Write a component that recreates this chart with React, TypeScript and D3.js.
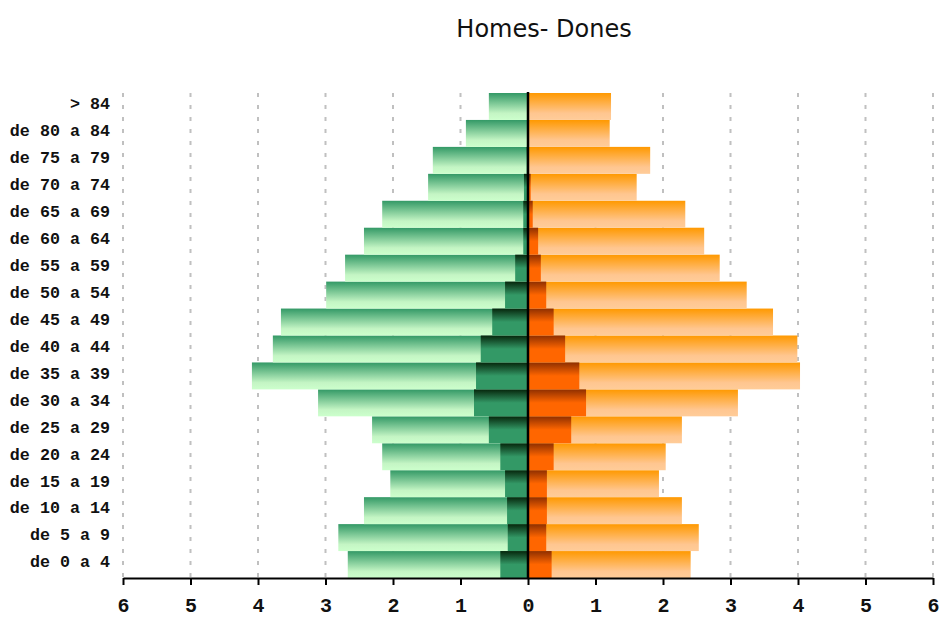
import React, { useRef, useEffect } from 'react';
import * as d3 from 'd3';

// age groups, bottom to top
const categories = [
    "de 0 a 4", "de 5 a 9", "de 10 a 14", "de 15 a 19", "de 20 a 24", "de 25 a 29",
    "de 30 a 34", "de 35 a 39", "de 40 a 44", "de 45 a 49", "de 50 a 54", "de 55 a 59",
    "de 60 a 64", "de 65 a 69", "de 70 a 74", "de 75 a 79", "de 80 a 84", "> 84"
];
const homesTotal = [2.67, 2.81, 2.43, 2.04, 2.16, 2.31, 3.11, 4.09, 3.78, 3.66, 2.99, 2.71, 2.43, 2.16, 1.48, 1.41, 0.92, 0.58];
const homesInner = [0.41, 0.30, 0.31, 0.34, 0.41, 0.58, 0.80, 0.77, 0.70, 0.53, 0.34, 0.19, 0.07, 0.07, 0.06, 0.02, 0, 0];
const donesTotal = [2.41, 2.53, 2.28, 1.94, 2.04, 2.28, 3.11, 4.03, 3.99, 3.63, 3.24, 2.84, 2.61, 2.33, 1.61, 1.81, 1.21, 1.23];
const donesInner = [0.35, 0.27, 0.28, 0.28, 0.38, 0.64, 0.86, 0.76, 0.55, 0.38, 0.27, 0.19, 0.15, 0.07, 0.04, 0.01, 0, 0];
const xTicks = [-6, -5, -4, -3, -2, -1, 0, 1, 2, 3, 4, 5, 6];

const Pyramid = () => {
    const ref = useRef(null);

    useEffect(() => {
        document.body.style.margin = "0";
        const svg = d3.select(ref.current);
        svg.selectAll("*").remove();

        const left = 123, right = 933, top = 93, bottom = 578;

        const x = d3.scaleLinear().domain([-6, 6]).range([left, right]);
        const y = d3.scaleBand().domain([...categories].reverse()).range([top, bottom]).padding(0);

        // --- gradients ---
        const defs = svg.append("defs");
        const grad = (id, stops) => {
            const g = defs.append("linearGradient").attr("id", id)
                .attr("x1", "0%").attr("y1", "0%").attr("x2", "0%").attr("y2", "100%");
            stops.forEach(([o, c]) => g.append("stop").attr("offset", o).attr("stop-color", c));
        };
        grad("g-big", [["0%", "#339966"], ["75%", "#c4f5c4"], ["100%", "#ccffcc"]]);
        grad("o-big", [["0%", "#ff9900"], ["75%", "#ffc690"], ["100%", "#ffcc99"]]);
        grad("g-small", [["0%", "#06260c"], ["50%", "#339966"], ["100%", "#339966"]]);
        grad("o-small", [["0%", "#8f2f00"], ["50%", "#ff6600"], ["100%", "#ff6600"]]);

        // --- title ---
        svg.append("text")
            .attr("x", 544).attr("y", 37)
            .attr("text-anchor", "middle")
            .style("font-family", "'DejaVu Sans', sans-serif")
            .style("font-size", "24px")
            .attr("fill", "#111")
            .text("Homes- Dones");

        // --- dashed grid ---
        svg.append("g").selectAll("line")
            .data(xTicks.filter(t => t !== 0))
            .enter().append("line")
            .attr("x1", d => x(d)).attr("x2", d => x(d))
            .attr("y1", top).attr("y2", bottom)
            .attr("stroke", "#c0c0c0").attr("stroke-width", 2)
            .attr("stroke-dasharray", "4,8");

        const idx = d3.range(categories.length);
        const bars = svg.append("g");

        // big bars
        bars.selectAll(".hb").data(idx).enter().append("rect")
            .attr("x", i => x(-homesTotal[i])).attr("y", i => y(categories[i]))
            .attr("width", i => x(0) - x(-homesTotal[i])).attr("height", y.bandwidth())
            .attr("fill", "url(#g-big)");
        bars.selectAll(".db").data(idx).enter().append("rect")
            .attr("x", x(0)).attr("y", i => y(categories[i]))
            .attr("width", i => x(donesTotal[i]) - x(0)).attr("height", y.bandwidth())
            .attr("fill", "url(#o-big)");

        // inner bars
        bars.selectAll(".hs").data(idx.filter(i => homesInner[i] > 0)).enter().append("rect")
            .attr("x", i => x(-homesInner[i])).attr("y", i => y(categories[i]))
            .attr("width", i => x(0) - x(-homesInner[i])).attr("height", y.bandwidth())
            .attr("fill", "url(#g-small)");
        bars.selectAll(".ds").data(idx.filter(i => donesInner[i] > 0)).enter().append("rect")
            .attr("x", x(0)).attr("y", i => y(categories[i]))
            .attr("width", i => x(donesInner[i]) - x(0)).attr("height", y.bandwidth())
            .attr("fill", "url(#o-small)");

        // zero line
        svg.append("line")
            .attr("x1", x(0)).attr("x2", x(0)).attr("y1", top - 1).attr("y2", bottom)
            .attr("stroke", "#000").attr("stroke-width", 2.5);

        // --- category labels ---
        svg.append("g").selectAll("text")
            .data(categories).enter().append("text")
            .attr("x", 110)
            .attr("y", d => y(d) + y.bandwidth() / 2 - 3)
            .attr("dy", "0.35em")
            .attr("text-anchor", "end")
            .style("font-family", "'Liberation Mono', 'Courier New', monospace")
            .style("font-weight", "bold")
            .style("font-size", "16.7px")
            .attr("fill", "#111")
            .text(d => d);

        // --- x axis ---
        const axis = svg.append("g")
            .attr("transform", `translate(0,${bottom})`)
            .call(d3.axisBottom(x).tickValues(xTicks).tickSize(7).tickSizeOuter(0).tickFormat(d => Math.abs(d)));
        axis.select(".domain").attr("stroke-width", 2).attr("stroke", "#000");
        axis.selectAll(".tick line").attr("stroke-width", 2).attr("stroke", "#000");
        axis.selectAll(".tick text")
            .attr("y", 20)
            .style("font-family", "'Liberation Mono', 'Courier New', monospace")
            .style("font-weight", "bold")
            .style("font-size", "20px")
            .attr("fill", "#111");
    }, []);

    return <svg ref={ref} width={941} height={617} style={{ display: 'block', background: '#fff' }}></svg>;
};

export default function App() {
    return <Pyramid />;
}
